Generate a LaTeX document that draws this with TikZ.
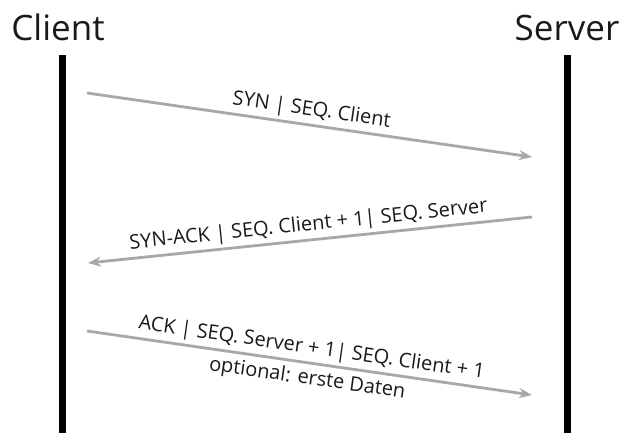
\documentclass[tikz,border=0pt]{standalone}
\usepackage{fontspec}
\setmainfont{Open Sans}
\usetikzlibrary{arrows.meta}
\definecolor{arrowgray}{HTML}{A8A8A8}
\definecolor{ink}{HTML}{1A1A1A}
\begin{document}
\begin{tikzpicture}[x=1pt,y=-1pt,
  title/.style={font=\fontsize{35}{40}\selectfont, anchor=base, inner sep=0pt, text=ink},
  life/.style={line width=7pt, black},
  msg/.style={line width=2.8pt, draw=arrowgray, -{Stealth[length=13pt,width=10pt]}},
  lbl/.style={font=\fontsize{20}{24}\selectfont, sloped, inner sep=0pt, text height=14pt, text depth=4pt, text=ink}]
\useasboundingbox (0,0) rectangle (625,433);
\node[title] (client) at (58,41) {Client};
\node[title] (server) at (567,41) {Server};
\coordinate (ctop) at (62,55);
\coordinate (cbot) at (62,433);
\coordinate (stop) at (567,55);
\coordinate (sbot) at (567,433);
\draw[life] (ctop) -- (cbot);
\draw[life] (stop) -- (sbot);
\coordinate (m1s) at (87,93);
\coordinate (m1e) at (532,157);
\coordinate (m2s) at (532,217);
\coordinate (m2e) at (88,263);
\coordinate (m3s) at (87,331);
\coordinate (m3e) at (532,395);
\draw[msg] (m1s) -- node[lbl, above=4pt] (l1) {SYN | SEQ. Client} (m1e);
\draw[msg] (m2s) -- node[lbl, above=4pt] (l2) {SYN-ACK | SEQ. Client + 1| SEQ. Server} (m2e);
\draw[msg] (m3s) -- node[lbl, above=4pt] (l3) {ACK | SEQ. Server + 1| SEQ. Client + 1}
                    node[lbl, below=6pt] (l4) {optional: erste Daten} (m3e);
\end{tikzpicture}
\end{document}
